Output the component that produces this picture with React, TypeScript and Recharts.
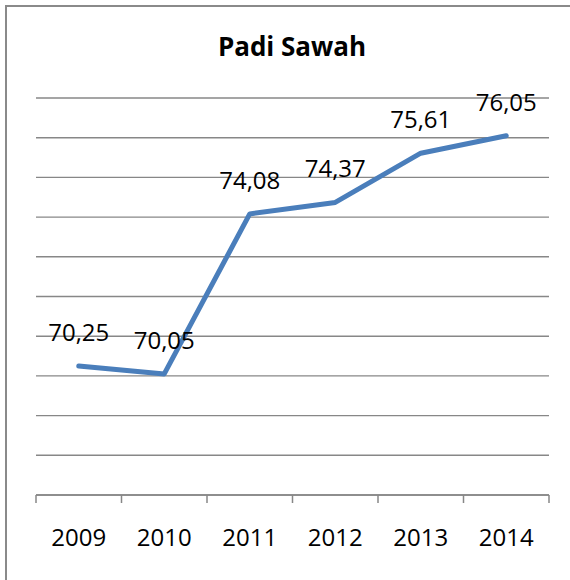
import React from 'react';
import { LineChart, Line, XAxis, YAxis, CartesianGrid, LabelList } from 'recharts';

const years = ['2009', '2010', '2011', '2012', '2013', '2014'];
const values = [70.25, 70.05, 74.08, 74.37, 75.61, 76.05];
const yTicks = [67, 68, 69, 70, 71, 72, 73, 74, 75, 76, 77];
const title = 'Padi Sawah';

const data = years.map((year, i) => ({ year, value: values[i] }));

const FONT = '"Open Sans", "Liberation Sans", sans-serif';
const GRID = '#878787';

const YearTick = (props: any) => {
  const { x, y, payload, index } = props;
  const off = payload && payload.offset ? payload.offset : 0;
  const isLast = index === years.length - 1;
  return (
    <g>
      <line x1={x - off} x2={x - off} y1={y} y2={y + 8} stroke={GRID} strokeWidth={1.5} />
      {isLast && <line x1={x + off} x2={x + off} y1={y} y2={y + 8} stroke={GRID} strokeWidth={1.5} />}
      <text x={x} y={y + 51} textAnchor="middle" fontSize={24} fill="#000" fontFamily={FONT}>
        {payload.value}
      </text>
    </g>
  );
};

const fmt = (v: any) => Number(v).toFixed(2).replace('.', ',');

export default function App() {
  return (
    <div style={{ position: 'absolute', left: 0, top: 0, width: 570, height: 580, background: '#fff', overflow: 'hidden' }}>
      <div
        style={{
          position: 'absolute',
          left: 5,
          top: 5,
          width: 600,
          height: 600,
          borderTop: '2px solid #8a8a8a',
          borderLeft: '2px solid #8a8a8a',
        }}
      />
      <svg width={570} height={80} style={{ position: 'absolute', left: 0, top: 0 }}>
        <text x={292} y={56} textAnchor="middle" fontSize={26} fontWeight="bold" fill="#000" fontFamily={FONT}>
          {title}
        </text>
      </svg>
      <div style={{ position: 'absolute', left: 0, top: 0 }}>
        <LineChart width={570} height={580} data={data} margin={{ top: 98, right: 21, left: 36, bottom: 0 }}>
          <CartesianGrid vertical={false} stroke={GRID} strokeWidth={1.4} />
          <YAxis hide domain={[67, 77]} ticks={yTicks} type="number" allowDataOverflow />
          <XAxis
            dataKey="year"
            scale="band"
            height={85}
            tickLine={false}
            tickSize={0}
            tickMargin={0}
            axisLine={{ stroke: GRID, strokeWidth: 1.5 }}
            tick={<YearTick />}
            interval={0}
          />
          <Line
            type="linear"
            dataKey="value"
            stroke="#4A7EBB"
            strokeWidth={5}
            dot={false}
            strokeLinecap="round"
            strokeLinejoin="round"
            isAnimationActive={false}
          >
            <LabelList
              dataKey="value"
              position="top"
              offset={25}
              formatter={fmt}
              fontSize={24}
              fill="#000"
              fontFamily={FONT}
            />
          </Line>
        </LineChart>
      </div>
    </div>
  );
}
